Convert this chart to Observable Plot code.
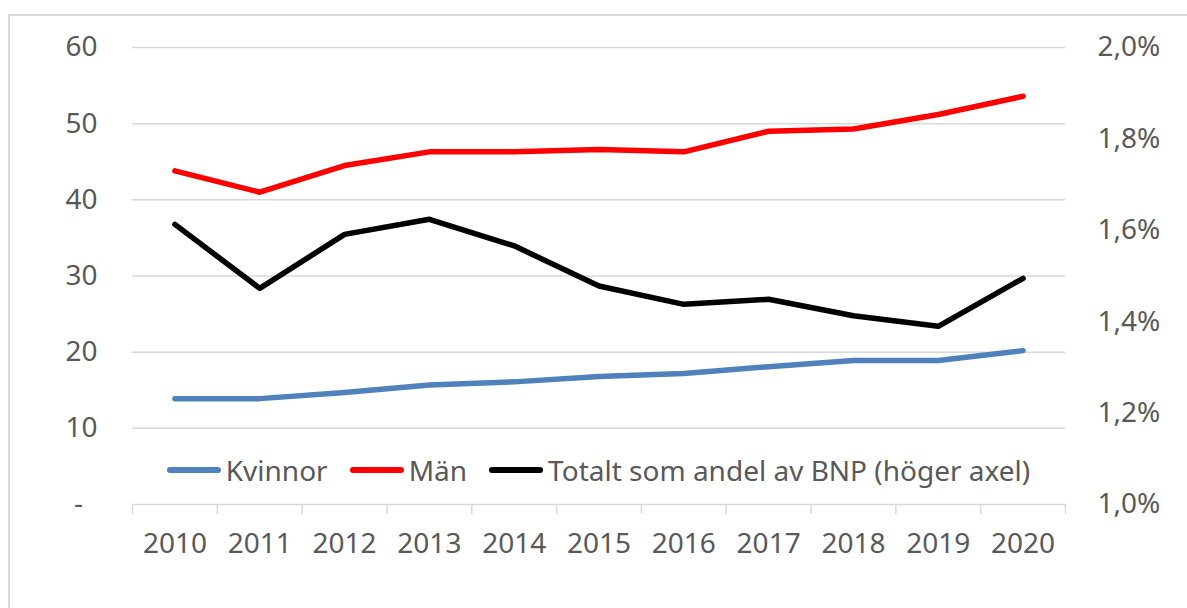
<!DOCTYPE html>
<html><head><meta charset="utf-8">
<script src="https://cdn.jsdelivr.net/npm/d3@7"></script>
<script src="https://cdn.jsdelivr.net/npm/@observablehq/plot@0.6"></script>
<style>
html,body{margin:0;padding:0;background:#fff;overflow:hidden;width:1187px;height:608px;}
#wrap{position:relative;width:1187px;height:608px;font-family:"Noto Sans",sans-serif;overflow:hidden;}
#frame{position:absolute;left:8px;top:14px;width:1300px;height:700px;border-left:2px solid #d9d9d9;border-top:2px solid #d9d9d9;}
#chart{position:absolute;left:0;top:0;}
#legend{position:absolute;left:132px;width:933px;top:449px;height:42px;display:flex;justify-content:center;align-items:center;font-size:28px;color:#595959;white-space:nowrap;}
.item{display:flex;align-items:center;margin:0 11px;}
.sw{width:54px;height:5.5px;border-radius:3px;margin-right:5px;}
</style></head>
<body>
<div id="wrap"><div id="frame"></div><div id="chart"></div><div id="legend"></div></div>
<script>
const years = [2010, 2011, 2012, 2013, 2014, 2015, 2016, 2017, 2018, 2019, 2020];
const kvinnor = [13.9, 13.9, 14.7, 15.7, 16.1, 16.8, 17.2, 18.1, 18.9, 18.9, 20.2];
const man = [43.8, 41.0, 44.5, 46.3, 46.3, 46.6, 46.3, 49.0, 49.3, 51.2, 53.6];
const totalt = [1.613, 1.473, 1.591, 1.624, 1.566, 1.478, 1.438, 1.449, 1.413, 1.390, 1.495];
const leftTicks = [0, 10, 20, 30, 40, 50, 60];
const rightTicks = [1.0, 1.2, 1.4, 1.6, 1.8, 2.0];
const seriesNames = ["Kvinnor", "Män", "Totalt som andel av BNP (höger axel)"];
const seriesColors = ["#4f81bd", "#ff0000", "#000000"];

// right axis (percent of GDP) mapped onto left scale: 1.0% -> 0, 2.0% -> 60
const rMin = rightTicks[0], rMax = rightTicks[rightTicks.length - 1];
const lMax = leftTicks[leftTicks.length - 1];
const toLeft = p => (p - rMin) / (rMax - rMin) * lMax;
const fromLeft = v => v / lMax * (rMax - rMin) + rMin;

const bounds = years.map(y => y - 0.5).concat([years[years.length - 1] + 0.5]);
const rows = (vals, f = v => v) => years.map((y, i) => ({year: y, v: f(vals[i])}));

const lineOpts = c => ({x: "year", y: "v", stroke: c, strokeWidth: 5.5, strokeLinecap: "round", strokeLinejoin: "round"});

const chart = Plot.plot({
  width: 1187, height: 608,
  marginLeft: 132, marginRight: 122, marginTop: 47, marginBottom: 104,
  style: {fontFamily: "'Noto Sans', sans-serif", fontSize: "28px", color: "#595959", background: "transparent"},
  x: {type: "linear", domain: [bounds[0], bounds[bounds.length - 1]], axis: null, label: null},
  y: {domain: [0, lMax], axis: null, label: null},
  marks: [
    Plot.gridY(leftTicks.filter(d => d > 0), {stroke: "#d9d9d9", strokeOpacity: 1, strokeWidth: 1.5}),
    Plot.ruleY([0], {stroke: "#d9d9d9", strokeWidth: 1.5}),
    Plot.axisX(bounds, {tickSize: 10, tickFormat: () => "", stroke: "#d9d9d9", strokeWidth: 1.5, label: null}),
    Plot.axisX(years, {tickSize: 0, tickPadding: 29, tickFormat: d => String(d), label: null}),
    Plot.axisY(leftTicks, {anchor: "left", tickSize: 0, tickPadding: 35, label: null,
      tickFormat: d => d === 0 ? "-\u00a0\u00a0" : String(d)}),
    Plot.axisY(rightTicks.map(toLeft), {anchor: "right", tickSize: 0, tickPadding: 32, label: null,
      textAnchor: "start",
      tickFormat: d => fromLeft(d).toFixed(1).replace(".", ",") + "%"}),
    Plot.line(rows(kvinnor), lineOpts(seriesColors[0])),
    Plot.line(rows(man), lineOpts(seriesColors[1])),
    Plot.line(rows(totalt, toLeft), lineOpts(seriesColors[2]))
  ]
});
document.getElementById("chart").appendChild(chart);

const legend = document.getElementById("legend");
seriesNames.forEach((n, i) => {
  const it = document.createElement("div");
  it.className = "item";
  const sw = document.createElement("div");
  sw.className = "sw";
  sw.style.background = seriesColors[i];
  const tx = document.createElement("span");
  tx.textContent = n;
  it.appendChild(sw); it.appendChild(tx);
  legend.appendChild(it);
});
</script>
</body></html>
